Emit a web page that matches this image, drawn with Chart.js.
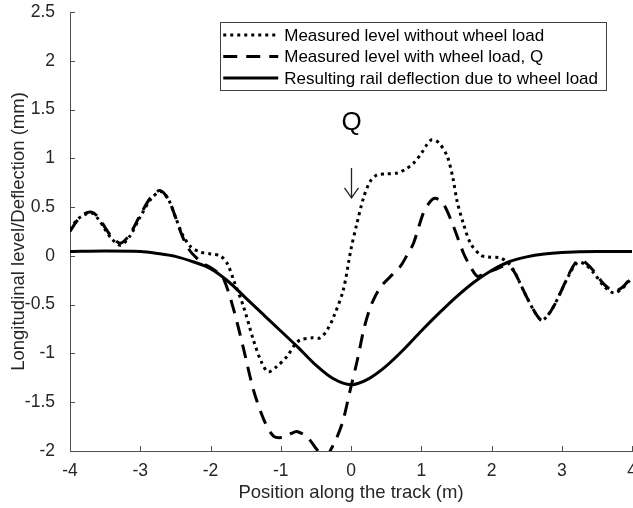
<!DOCTYPE html>
<html>
<head>
<meta charset="utf-8">
<script src="https://cdn.jsdelivr.net/npm/chart.js@4.4.1/dist/chart.umd.min.js"></script>
<style>
  html, body { margin: 0; padding: 0; background: #fff; overflow: hidden; }
  #wrap { width: 633px; height: 508px; }
</style>
</head>
<body>
<div id="wrap"><canvas id="chart" width="633" height="508"></canvas></div>
<script>
// series labels (legend order)
const seriesLabels = [
  "Measured level without wheel load",
  "Measured level with wheel load, Q",
  "Resulting rail deflection due to wheel load"
];

// measured level without wheel load (dotted)
const unloadedX = [-4.00, -3.90, -3.80, -3.69, -3.60, -3.50, -3.40, -3.28, -3.15, -3.00, -2.85, -2.71, -2.60, -2.50, -2.40, -2.29, -2.15, -2.00, -1.86, -1.76, -1.67, -1.53, -1.39, -1.28, -1.18, -1.05, -0.91, -0.80, -0.72, -0.55, -0.44, -0.34, -0.25, -0.11, 0.00, 0.08, 0.18, 0.27, 0.37, 0.50, 0.66, 0.78, 0.89, 1.00, 1.08, 1.15, 1.25, 1.37, 1.45, 1.51, 1.60, 1.70, 1.84, 1.94, 2.12, 2.22, 2.31, 2.40, 2.50, 2.62, 2.72, 2.85, 2.98, 3.10, 3.22, 3.32, 3.45, 3.60, 3.74, 3.85, 3.97, 4.00];
const unloadedY = [0.27, 0.37, 0.42, 0.44, 0.38, 0.27, 0.17, 0.11, 0.20, 0.40, 0.58, 0.66, 0.58, 0.40, 0.22, 0.10, 0.04, 0.02, 0.00, -0.08, -0.25, -0.52, -0.86, -1.08, -1.19, -1.13, -1.03, -0.91, -0.86, -0.84, -0.84, -0.76, -0.63, -0.35, 0.07, 0.32, 0.60, 0.76, 0.83, 0.84, 0.85, 0.89, 0.95, 1.05, 1.14, 1.19, 1.16, 1.02, 0.80, 0.56, 0.33, 0.13, 0.01, -0.01, -0.02, -0.06, -0.14, -0.27, -0.42, -0.58, -0.66, -0.56, -0.38, -0.20, -0.07, -0.08, -0.17, -0.31, -0.38, -0.34, -0.25, -0.24];

// measured level with wheel load Q (dashed)
const loadedX = [-4.00, -3.90, -3.80, -3.70, -3.60, -3.50, -3.40, -3.28, -3.15, -3.00, -2.85, -2.72, -2.60, -2.50, -2.40, -2.30, -2.20, -2.10, -2.00, -1.90, -1.81, -1.67, -1.53, -1.39, -1.24, -1.10, -0.96, -0.85, -0.77, -0.62, -0.48, -0.40, -0.33, -0.29, -0.20, -0.11, -0.01, 0.09, 0.18, 0.25, 0.32, 0.42, 0.55, 0.70, 0.80, 0.89, 1.03, 1.12, 1.20, 1.31, 1.46, 1.60, 1.70, 1.80, 1.90, 2.05, 2.20, 2.31, 2.40, 2.50, 2.62, 2.72, 2.85, 2.98, 3.10, 3.22, 3.32, 3.45, 3.60, 3.74, 3.85, 3.97, 4.00];
const loadedY = [0.25, 0.36, 0.43, 0.45, 0.40, 0.29, 0.19, 0.13, 0.22, 0.42, 0.60, 0.67, 0.58, 0.40, 0.20, 0.06, -0.02, -0.08, -0.12, -0.17, -0.24, -0.55, -0.95, -1.37, -1.68, -1.85, -1.86, -1.82, -1.80, -1.86, -1.99, -2.05, -2.04, -1.99, -1.86, -1.68, -1.37, -1.07, -0.76, -0.58, -0.45, -0.32, -0.22, -0.11, 0.01, 0.13, 0.44, 0.55, 0.59, 0.54, 0.30, 0.03, -0.11, -0.21, -0.18, -0.14, -0.10, -0.15, -0.27, -0.42, -0.58, -0.66, -0.56, -0.38, -0.19, -0.05, -0.06, -0.15, -0.29, -0.36, -0.33, -0.24, -0.23];

// resulting rail deflection (solid)
const deflectionX = [-4, -3.5, -3, -2.75, -2.5, -2.25, -2, -1.75, -1.5, -1.25, -1, -0.75, -0.5, -0.25, 0, 0.25, 0.5, 0.75, 1, 1.25, 1.5, 1.75, 2, 2.25, 2.5, 2.75, 3, 3.5, 4];
const deflectionY = [0.045, 0.05, 0.045, 0.025, -0.005, -0.06, -0.13, -0.26, -0.43, -0.6, -0.77, -0.94, -1.12, -1.26, -1.32, -1.26, -1.13, -0.96, -0.77, -0.59, -0.42, -0.27, -0.15, -0.06, -0.01, 0.02, 0.035, 0.045, 0.045];

const xTicks = [-4, -3, -2, -1, 0, 1, 2, 3, 4];
const yTicks = [-2, -1.5, -1, -0.5, 0, 0.5, 1, 1.5, 2, 2.5];

const FONT = 'Arial, "Liberation Sans", Helvetica, sans-serif';
const AXIS_COLOR = '#505050';
const TEXT_COLOR = '#262626';

function pts(xs, ys) {
  return xs.map((x, i) => ({ x: x, y: ys[i] }));
}

// inward tick marks like the original figure
const innerTicks = {
  id: 'innerTicks',
  afterDraw(chart) {
    const ctx = chart.ctx;
    const xs = chart.scales.x, ys = chart.scales.y;
    const area = chart.chartArea;
    ctx.save();
    ctx.strokeStyle = AXIS_COLOR;
    ctx.lineWidth = 1;
    ctx.beginPath();
    xTicks.forEach(v => {
      const px = Math.round(xs.getPixelForValue(v)) + 0.5;
      ctx.moveTo(px, area.bottom);
      ctx.lineTo(px, area.bottom - 5);
    });
    yTicks.forEach(v => {
      const py = Math.round(ys.getPixelForValue(v)) + 0.5;
      ctx.moveTo(area.left, py);
      ctx.lineTo(area.left + 5, py);
    });
    ctx.stroke();
    ctx.restore();
  }
};

// "Q" label and thin arrow above the load position
const loadMark = {
  id: 'loadMark',
  afterDatasetsDraw(chart) {
    const ctx = chart.ctx;
    const ys = chart.scales.y;
    const px = Math.round(chart.scales.x.getPixelForValue(0)) + 0.5;
    ctx.save();
    ctx.fillStyle = '#000';
    ctx.textAlign = 'center';
    ctx.textBaseline = 'middle';
    ctx.font = '26px ' + FONT;
    ctx.fillText('Q', px, ys.getPixelForValue(1.36));
    const top = ys.getPixelForValue(0.90);
    const tip = ys.getPixelForValue(0.595);
    ctx.strokeStyle = '#222';
    ctx.lineWidth = 1.3;
    ctx.beginPath();
    ctx.moveTo(px, top);
    ctx.lineTo(px, tip);
    ctx.moveTo(px - 7, tip - 10);
    ctx.lineTo(px, tip);
    ctx.lineTo(px + 7, tip - 10);
    ctx.stroke();
    ctx.restore();
  }
};

// boxed legend in the upper right of the axes
const boxLegend = {
  id: 'boxLegend',
  afterDraw(chart) {
    const ctx = chart.ctx;
    const area = chart.chartArea;
    ctx.save();
    ctx.font = '17px ' + FONT;
    let maxW = 0;
    chart.data.datasets.forEach(d => { maxW = Math.max(maxW, ctx.measureText(d.label).width); });
    const sampleW = 55, gap = 6, rowH = 21.5;
    const w = 3 + sampleW + gap + maxW + 8;
    const h = 68;
    const right = area.right - 26;
    const left = right - w;
    const top = area.top + 10;
    ctx.fillStyle = '#fff';
    ctx.fillRect(left, top, w, h);
    ctx.strokeStyle = '#404040';
    ctx.lineWidth = 1;
    ctx.strokeRect(Math.round(left) + 0.5, Math.round(top) + 0.5, Math.round(w), Math.round(h));
    chart.data.datasets.forEach((d, i) => {
      const cy = top + 13 + i * rowH;
      ctx.beginPath();
      ctx.setLineDash(d.borderDash || []);
      ctx.lineWidth = d.borderWidth;
      ctx.strokeStyle = d.borderColor;
      ctx.moveTo(left + 3, cy);
      ctx.lineTo(left + 3 + sampleW, cy);
      ctx.stroke();
      ctx.setLineDash([]);
      ctx.fillStyle = '#000';
      ctx.textBaseline = 'middle';
      ctx.textAlign = 'left';
      ctx.fillText(d.label, left + 3 + sampleW + gap, cy + 1);
    });
    ctx.restore();
  }
};

new Chart(document.getElementById('chart'), {
  type: 'scatter',
  data: {
    datasets: [
      {
        label: seriesLabels[0],
        data: pts(unloadedX, unloadedY),
        showLine: true,
        borderColor: '#000',
        borderWidth: 3,
        borderDash: [3, 4],
        pointRadius: 0,
        tension: 0.3
      },
      {
        label: seriesLabels[1],
        data: pts(loadedX, loadedY),
        showLine: true,
        borderColor: '#000',
        borderWidth: 3,
        borderDash: [14, 9],
        pointRadius: 0,
        tension: 0.3
      },
      {
        label: seriesLabels[2],
        data: pts(deflectionX, deflectionY),
        showLine: true,
        borderColor: '#000',
        borderWidth: 3,
        pointRadius: 0,
        cubicInterpolationMode: 'monotone'
      }
    ]
  },
  options: {
    responsive: false,
    animation: false,
    layout: { padding: { top: 12, right: 1, left: 0, bottom: 0 } },
    plugins: {
      legend: { display: false },
      tooltip: { enabled: false }
    },
    scales: {
      x: {
        type: 'linear',
        min: -4,
        max: 4,
        afterBuildTicks: s => { s.ticks = xTicks.map(v => ({ value: v })); },
        afterFit: s => { s.height = 57; s.paddingRight = 0; s.paddingLeft = 0; },
        grid: { display: false },
        border: { display: true, color: AXIS_COLOR, width: 1 },
        ticks: { color: TEXT_COLOR, font: { family: FONT, size: 17.5 }, padding: 2, callback: v => String(v) },
        title: {
          display: true,
          text: 'Position along the track (m)',
          color: TEXT_COLOR,
          font: { family: FONT, size: 18.5 },
          padding: { top: 0, bottom: 4 }
        }
      },
      y: {
        type: 'linear',
        min: -2,
        max: 2.5,
        afterBuildTicks: s => { s.ticks = yTicks.map(v => ({ value: v })); },
        afterFit: s => { s.width = 70; s.paddingTop = 0; },
        grid: { display: false },
        border: { display: true, color: AXIS_COLOR, width: 1 },
        ticks: { color: TEXT_COLOR, font: { family: FONT, size: 17.5 }, padding: 7, callback: v => String(v) },
        title: {
          display: true,
          text: 'Longitudinal level/Deflection (mm)',
          color: TEXT_COLOR,
          font: { family: FONT, size: 18.5 },
          padding: { top: 8, bottom: 0 }
        }
      }
    }
  },
  plugins: [innerTicks, loadMark, boxLegend]
});
</script>
</body>
</html>
